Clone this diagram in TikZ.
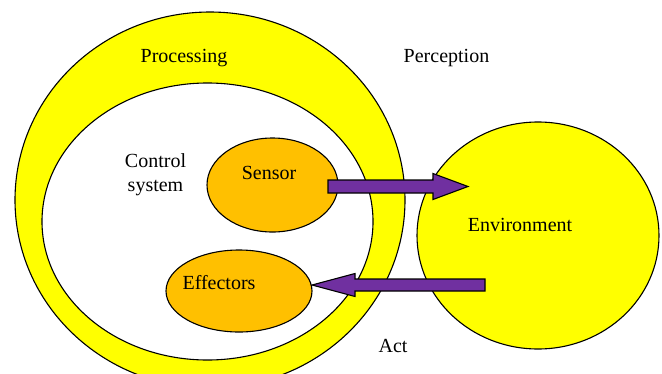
\documentclass[tikz,border=0pt]{standalone}
\usepackage{fontspec}
\setmainfont{Liberation Serif}
\usetikzlibrary{shapes.geometric,calc}
\definecolor{ringyellow}{RGB}{255,255,0}
\definecolor{partorange}{RGB}{255,192,0}
\definecolor{flowpurple}{RGB}{112,48,160}
\begin{document}
\begin{tikzpicture}[x=1pt,y=-1pt,
  blob/.style={ellipse, draw=black, line width=1.1pt, inner sep=0pt},
  lbl/.style={font=\fontsize{20}{25}\selectfont, anchor=base, inner sep=0pt},
  fatarrow/.style={draw=black, line width=1.1pt, fill=flowpurple, line join=miter}]
\useasboundingbox (0,0) rectangle (662,373);
\clip (0,0) rectangle (662,373);

% nested system regions
\node[blob, fill=ringyellow, minimum width=390pt, minimum height=376pt] (processing) at (210,200) {};
\node[blob, fill=white, minimum width=331pt, minimum height=277pt] (control) at (207.5,221.5) {};
\node[blob, fill=ringyellow, minimum width=242pt, minimum height=227pt] (environment) at (538,235.5) {};
\node[blob, fill=partorange, minimum width=131pt, minimum height=94pt] (sensor) at (272.5,185) {};
\node[blob, fill=partorange, minimum width=146pt, minimum height=82pt] (effectors) at (239,291) {};

% labels
\node[lbl] (tprocessing) at (184,62) {Processing};
\node[lbl] (tperception) at (446.5,62) {Perception};
\node[lbl] (tcontrol) at (155.5,167) {Control};
\node[lbl] (tsystem) at (155.5,191) {system};
\node[lbl] (tsensor) at (269,179) {Sensor};
\node[lbl] (teffectors) at (219,289) {Effectors};
\node[lbl] (tenvironment) at (520,231) {Environment};
\node[lbl] (tact) at (393,352) {Act};

% block arrow ends
\coordinate (percStart) at (328,186.5);
\coordinate (percTip) at (468,186.5);
\coordinate (actStart) at (485,285);
\coordinate (actTip) at (312,285);

% perception: sensor -> environment
\draw[fatarrow] let \p1=(percStart), \p2=(percTip) in
  (\x1,\y1+6.5pt) -- (\x2-35pt,\y1+6.5pt) -- (\x2-35pt,\y1+13pt) -- (\x2,\y2)
  -- (\x2-35pt,\y1-13pt) -- (\x2-35pt,\y1-6.5pt) -- (\x1,\y1-6.5pt) -- cycle;

% action: environment -> effectors
\draw[fatarrow] let \p1=(actStart), \p2=(actTip) in
  (\x1,\y1+6pt) -- (\x2+43pt,\y1+6pt) -- (\x2+43pt,\y1+11.5pt) -- (\x2,\y2)
  -- (\x2+43pt,\y1-11.5pt) -- (\x2+43pt,\y1-6pt) -- (\x1,\y1-6pt) -- cycle;
\end{tikzpicture}
\end{document}
